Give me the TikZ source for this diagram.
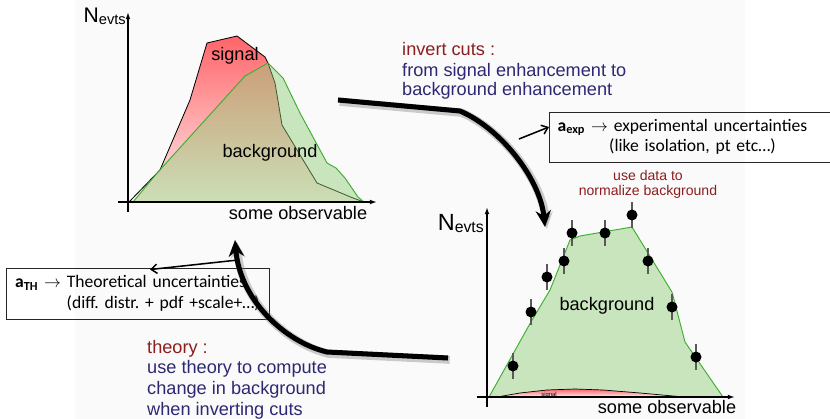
\documentclass[tikz,border=0pt]{standalone}
\usepackage{fontspec}
\setmainfont{Liberation Sans}
\newfontfamily\boxfont{Carlito}
\usepackage{tikz}
\usetikzlibrary{arrows.meta}
\usetikzlibrary{calc}
\frenchspacing
\definecolor{cutred}{RGB}{140,30,30}
\definecolor{cutblue}{RGB}{45,40,115}
\definecolor{sigred}{RGB}{255,100,105}
\definecolor{sigpink}{RGB}{255,238,238}
\definecolor{bkgfill}{RGB}{140,205,115}
\definecolor{bkgline}{RGB}{60,175,45}
\definecolor{panel}{RGB}{250,250,250}
\tikzstyle{axis}=[line width=1.2pt, -{Latex[length=6pt,width=4pt]}]
\tikzstyle{sigarea}=[draw=black, line width=.7pt, top color=sigred, bottom color=sigpink]
\tikzstyle{bkgarea}=[draw=bkgline, line width=.8pt, fill=bkgfill, fill opacity=.45]
\tikzstyle{datapt}=[circle, fill=black, inner sep=0pt, minimum size=.33cm]
\tikzstyle{errbar}=[line width=1.2pt, black!65]
\tikzstyle{lbl}=[inner sep=0pt, text height=1.5ex, text depth=.25ex]
\tikzstyle{plotlbl}=[lbl, font=\fontsize{15.5}{18}\selectfont]
\tikzstyle{notelbl}=[lbl, anchor=west, font=\fontsize{15.5}{18}\selectfont]
\tikzstyle{uncbox}=[draw=black!85, line width=.8pt, inner xsep=7pt, inner ysep=0pt,
    align=left, font=\boxfont\fontsize{15}{17.5}\selectfont]
\tikzstyle{thinarrow}=[line width=1.3pt, -{Straight Barb[length=5pt,width=8pt]}]
\tikzstyle{bigarrow}=[line width=4.3pt, -{Stealth[length=14pt,width=13pt]},
    preaction={draw=black!55, opacity=.35, line width=7pt,
      transform canvas={xshift=1.5pt,yshift=-1.5pt}}]

\begin{document}
\begin{tikzpicture}[x=0.03cm, y=-0.03cm]
\useasboundingbox (0,0) rectangle (830,419);
\fill[panel] (75,0) rectangle (745,419);

% signal region: signal over background
\draw[sigarea] (129,202) -- (160,170) -- (190,100) -- (207,43) -- (237,36) -- (265,57)
  -- (268,63) -- (275,83) -- (282,125) -- (317,183) -- (353,198) -- (364,202) -- cycle;
\draw[bkgarea] (133,202) -- (158,172) -- (245,76) -- (268,63) -- (283,78) -- (300,113)
  -- (327,163) -- (336,168) -- (345,178) -- (358,197) -- (364,202) -- cycle;
\draw[axis] (128,212) -- (128,12);
\draw[axis] (118,202) -- (377,202);
\node[anchor=base east, inner sep=0pt, font=\fontsize{18}{20}\selectfont] (srny) at (126,22)
  {N{\fontsize{12.5}{13}\selectfont\raisebox{-2pt}{evts}}};
\node[plotlbl] (srsig) at (235,57) {signal};
\node[plotlbl] (srbkg) at (270,154) {background};
\node[plotlbl] (srobs) at (298,216) {some observable};

% control region: background over signal
\draw[bkgarea] (489,397) -- (532,320) -- (550,290) -- (570,240) -- (580,236) -- (632,227)
  -- (672,292) -- (685,342) -- (723,397) -- cycle;
\draw[sigarea, line width=.6pt] (497,397) -- (520,393) -- (547,390) -- (575,389) -- (603,390)
  -- (640,393) -- (684,397) -- cycle;
\draw[axis] (487,407) -- (487,207);
\draw[axis] (477,397) -- (735,397);
\node[anchor=base east, inner sep=0pt, font=\fontsize{20}{22}\selectfont] (crny) at (484,230)
  {N{\fontsize{13.5}{14}\selectfont\raisebox{-2pt}{evts}}};
\foreach \px/\py [count=\i] in {513/366, 531/312, 547/277, 564/261, 572/233,
    605/233, 632/215, 648/261, 672/307, 696/357}{
  \draw[errbar] (\px,\py-13) -- (\px,\py+13);
  \node[datapt] (pt\i) at (\px,\py) {};
}
\node[plotlbl] (crbkg) at (607,307) {background};
\node[lbl, font=\fontsize{5}{6}\selectfont] (crsig) at (549,392.5) {signal};
\node[plotlbl] (crobs) at (667,410) {some observable};
\node[lbl, text=cutred, font=\fontsize{12}{14}\selectfont] (norma) at (648,177) {use data to};
\node[lbl, text=cutred, font=\fontsize{12}{14}\selectfont] (normb) at (648,192) {normalize background};

% notes
\node[notelbl, text=cutred] (cutsa) at (402,52) {invert cuts :};
\node[notelbl, text=cutblue] (cutsb) at (402,73) {from signal enhancement to};
\node[notelbl, text=cutblue] (cutsc) at (402,92) {background enhancement};
\node[notelbl, text=cutred] (theoa) at (147,350) {theory :};
\node[notelbl, text=cutblue] (theob) at (147,370) {use theory to compute};
\node[notelbl, text=cutblue] (theoc) at (147,391) {change in background};
\node[notelbl, text=cutblue] (theod) at (147,412) {when inverting cuts};

% uncertainty boxes
\node[uncbox, text width=9cm, minimum height=1.5cm, anchor=west] (expbox) at (549,137)
  {\mbox{{\bfseries a\textsubscript{exp}} $\rightarrow$ experimental uncertainties}\\
   \mbox{\hspace*{44pt}(like isolation, pt etc…)}};
\node[uncbox, text width=7.37cm, minimum height=1.53cm] (thbox) at (138,293.5)
  {\mbox{{\bfseries a\textsubscript{TH}} $\rightarrow$ Theoretical uncertainties}\\
   \mbox{\hspace*{44pt}(diff. distr. + pdf +scale+…)}};

% arrows
\coordinate (expfrom) at (519,139);
\coordinate (thfrom) at (238,260);
\coordinate (cutsfrom) at (338,100);
\coordinate (cutsto) at (545,227);
\coordinate (theofrom) at (448,358);
\coordinate (theoto) at (235,240);
\draw[bigarrow] (cutsfrom) -- (460,111) .. controls (500,128) and (540,178) .. (cutsto);
\draw[bigarrow] (theofrom) -- (327,352) .. controls (285,342) and (240,300) .. (theoto);
\draw[thinarrow] (expfrom) -- ($(expbox.west)+(0,-10)$);
\draw[thinarrow] (thfrom) -- ($(thbox.north)+(12,2)$);
\end{tikzpicture}
\end{document}
